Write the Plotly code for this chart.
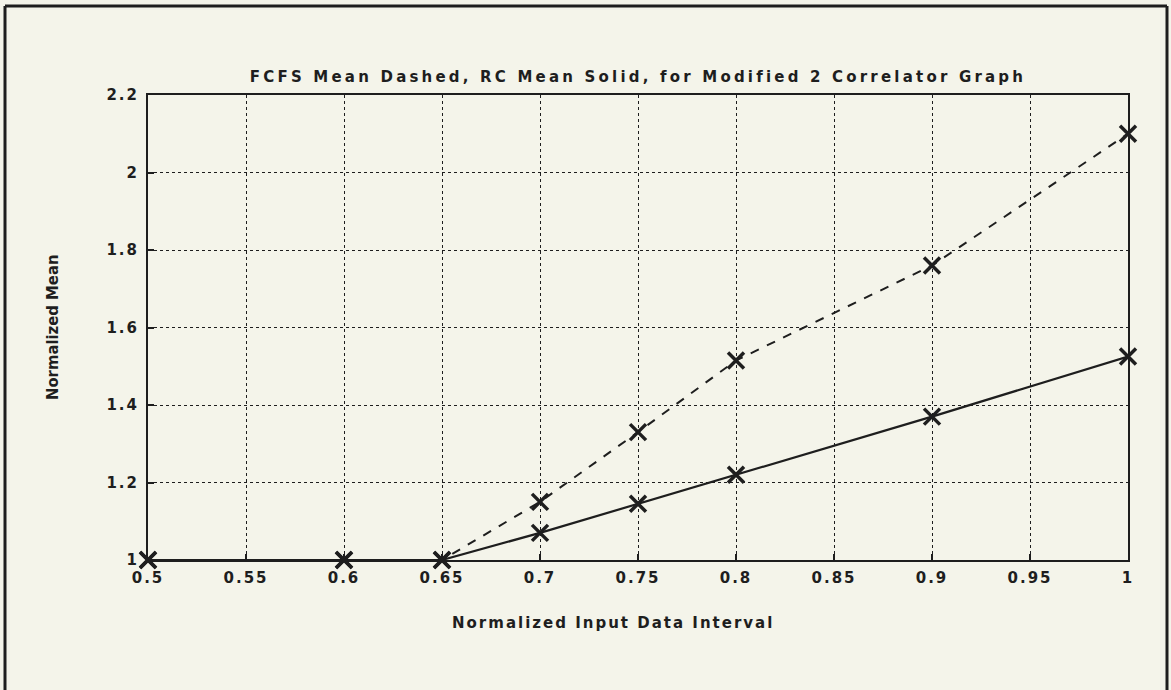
import plotly.graph_objects as go

# Data
x_vals = [0.5, 0.6, 0.65, 0.7, 0.75, 0.8, 0.9, 1.0]
fcfs_mean = [1.0, 1.0, 1.0, 1.15, 1.33, 1.515, 1.76, 2.1]   # dashed
rc_mean = [1.0, 1.0, 1.0, 1.07, 1.145, 1.22, 1.37, 1.525]   # solid

x_ticks = [0.5, 0.55, 0.6, 0.65, 0.7, 0.75, 0.8, 0.85, 0.9, 0.95, 1.0]
x_tick_labels = ["0.5", "0.55", "0.6", "0.65", "0.7", "0.75", "0.8", "0.85", "0.9", "0.95", "1"]
y_ticks = [1.0, 1.2, 1.4, 1.6, 1.8, 2.0, 2.2]
y_tick_labels = ["1", "1.2", "1.4", "1.6", "1.8", "2", "2.2"]

title_text = "FCFS Mean Dashed, RC Mean Solid, for Modified 2 Correlator Graph"
x_title = "Normalized Input Data Interval"
y_title = "Normalized Mean"

W, H = 1171, 690
L, R, T, B = 148, 43, 95, 130
PW, PH = W - L - R, H - T - B

INK = "#1e1e1e"
BG = "#f4f4ea"
FONT = "DejaVu Sans"


def spaced(s, px):
    return '<span style="letter-spacing:%.1fpx">%s</span>' % (px, s)


fig = go.Figure()
fig.add_trace(go.Scatter(
    x=x_vals, y=fcfs_mean, mode="lines+markers", name="FCFS",
    line=dict(color=INK, width=2, dash="dash"),
    marker=dict(symbol="x-thin", size=16, line=dict(color=INK, width=3.5)),
    cliponaxis=False, showlegend=False,
))
fig.add_trace(go.Scatter(
    x=x_vals, y=rc_mean, mode="lines+markers", name="RC",
    line=dict(color=INK, width=2.2),
    marker=dict(symbol="x-thin", size=16, line=dict(color=INK, width=3.5)),
    cliponaxis=False, showlegend=False,
))


def px_to_paper_x(px):
    return (px - L) / PW


def px_to_paper_y(py):
    return (H - B - py) / PH


# outer frame (top, left, right)
frame = dict(color=INK, width=3)
for x0, y0, x1, y1 in [(5, 6, 1167, 6), (5, 6, 5, 700), (1167, 6, 1167, 700)]:
    fig.add_shape(type="line", xref="paper", yref="paper",
                  x0=px_to_paper_x(x0), y0=px_to_paper_y(y0),
                  x1=px_to_paper_x(x1), y1=px_to_paper_y(y1),
                  line=frame, layer="above")

axis_common = dict(
    showline=True, linecolor=INK, linewidth=2, mirror=True,
    showgrid=True, gridcolor=INK, gridwidth=1.4, griddash="dot",
    ticks="inside", ticklen=6, tickwidth=2, tickcolor=INK,
    zeroline=False,
    tickfont=dict(family=FONT, size=15, color=INK, weight="bold"),
)

fig.update_layout(
    width=W, height=H,
    margin=dict(l=L, r=R, t=T, b=B),
    paper_bgcolor=BG, plot_bgcolor=BG,
    font=dict(family=FONT, color=INK),
    title=dict(text=spaced(title_text, 3.2), x=638 / W, xanchor="center",
               y=1 - 77 / H, yanchor="middle",
               font=dict(family=FONT, size=15, color=INK, weight="bold")),
    xaxis=dict(range=[0.5, 1.0], tickvals=x_ticks,
               ticktext=[spaced(t, 2.0) for t in x_tick_labels],
               ticklabelstandoff=3, **axis_common),
    yaxis=dict(range=[1.0, 2.2], tickvals=y_ticks,
               ticktext=[spaced(t, 2.0) for t in y_tick_labels],
               ticklabelstandoff=4, **axis_common),
    annotations=[
        dict(text=spaced(x_title, 2.0), xref="paper", yref="paper",
             x=px_to_paper_x(613), y=px_to_paper_y(623),
             xanchor="center", yanchor="middle", showarrow=False,
             font=dict(family=FONT, size=15, color=INK, weight="bold")),
        dict(text=y_title, xref="paper", yref="paper",
             x=px_to_paper_x(52), y=px_to_paper_y(327),
             xanchor="center", yanchor="middle", showarrow=False, textangle=-90,
             font=dict(family="DejaVu Sans Condensed", size=16.5, color=INK, weight="bold")),
    ],
)

fig.write_html("out.html", config={"displayModeBar": False},
               post_script="document.body.style.margin='0';")
